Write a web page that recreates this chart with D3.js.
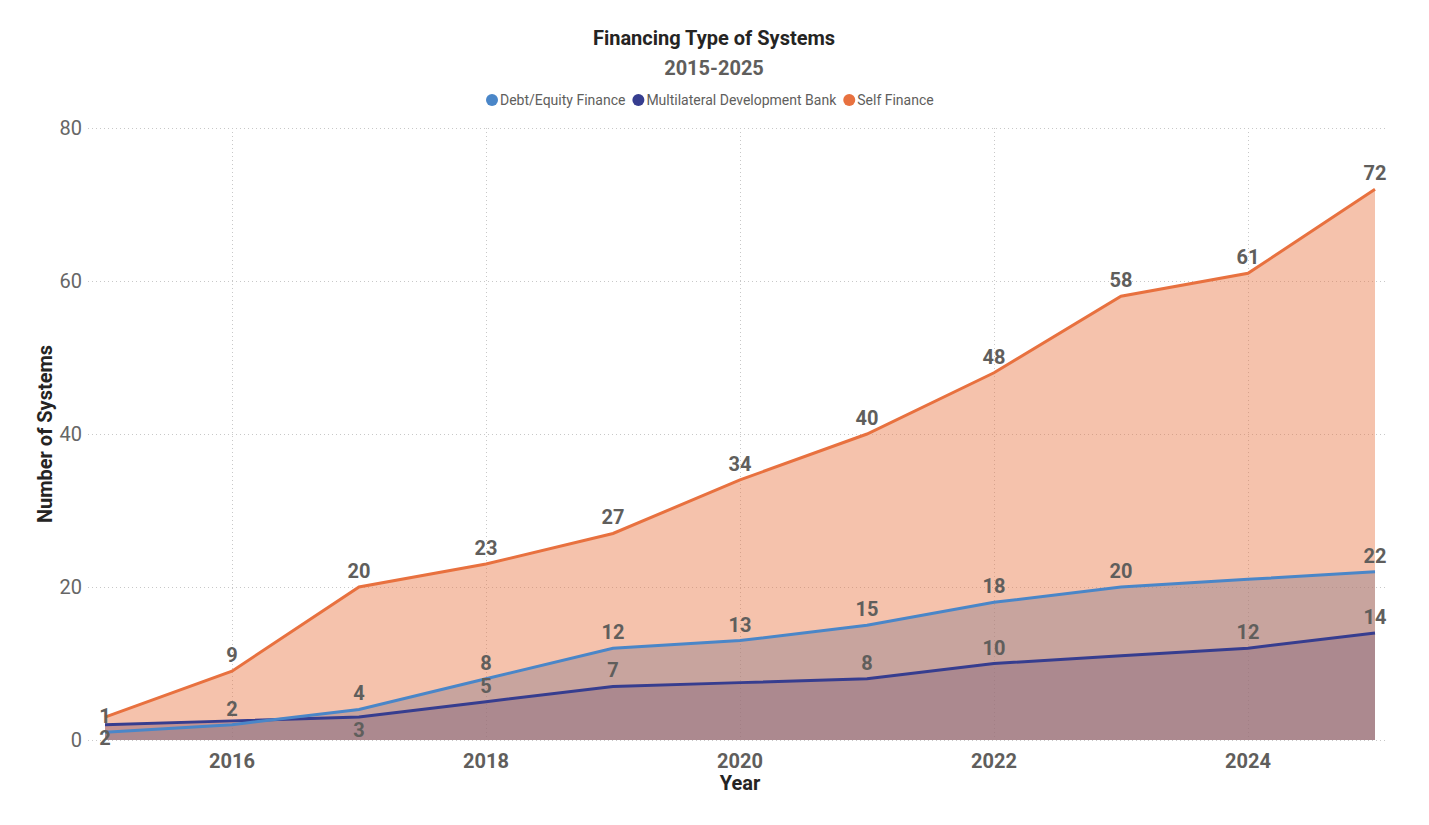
<!DOCTYPE html>
<html>
<head>
<meta charset="utf-8">
<script src="https://cdn.jsdelivr.net/npm/d3@7"></script>
<style>
  body { margin: 0; background: #fff; }
  text { font-family: Roboto, "DejaVu Sans", sans-serif; }
</style>
</head>
<body>
<div id="chart"></div>
<script>
// chart values
var years = [2015, 2016, 2017, 2018, 2019, 2020, 2021, 2022, 2023, 2024, 2025];
var seriesNames = ["Debt/Equity Finance", "Multilateral Development Bank", "Self Finance"];
var debtEquity = [1, 2, 4, 8, 12, 13, 15, 18, 20, 21, 22];
var multilateral = [2, 2.5, 3, 5, 7, 7.5, 8, 10, 11, 12, 14];
var selfFinance = [3, 9, 20, 23, 27, 34, 40, 48, 58, 61, 72];
var yTicks = [0, 20, 40, 60, 80];
var xTicks = [2016, 2018, 2020, 2022, 2024];

// which data labels the reference shows (others are hidden by overlap)
var debtLabels = [true, true, true, true, true, true, true, true, true, false, true];
var mdbLabels = [true, false, true, true, true, false, true, true, false, true, true];
var selfLabels = [false, true, true, true, true, true, true, true, true, true, true];
var mdbBelow = [true, false, true, false, false, false, false, false, false, false, false];

var colors = ["#4a86c8", "#363d8f", "#e8713f"];

var W = 1429, H = 825;
var margin = { left: 105, right: 54, top: 128, bottom: 85 };

var svg = d3.select("#chart").append("svg")
  .attr("width", W)
  .attr("height", H);

var x = d3.scaleLinear()
  .domain([2015, 2025])
  .range([margin.left, W - margin.right]);

var y = d3.scaleLinear()
  .domain([0, 80])
  .range([H - margin.bottom, margin.top]);

// <------ gridlines ------>
svg.append("g")
  .selectAll("line")
  .data(yTicks)
  .enter()
  .append("line")
  .attr("x1", 88)
  .attr("x2", 1386)
  .attr("y1", function(d) { return y(d) + 0.5; })
  .attr("y2", function(d) { return y(d) + 0.5; })
  .attr("stroke", "#c8c8c8")
  .attr("stroke-width", 1)
  .attr("stroke-dasharray", "1,3");

svg.append("g")
  .selectAll("line")
  .data(xTicks)
  .enter()
  .append("line")
  .attr("x1", function(d) { return x(d) + 0.5; })
  .attr("x2", function(d) { return x(d) + 0.5; })
  .attr("y1", y(80))
  .attr("y2", y(0))
  .attr("stroke", "#c8c8c8")
  .attr("stroke-width", 1)
  .attr("stroke-dasharray", "1,3");

// <------ areas (overlapping, not stacked) ------>
var series = [
  { name: seriesNames[1], values: multilateral, color: colors[1], labels: mdbLabels, below: mdbBelow },
  { name: seriesNames[0], values: debtEquity, color: colors[0], labels: debtLabels, below: null },
  { name: seriesNames[2], values: selfFinance, color: colors[2], labels: selfLabels, below: null }
];

var area = d3.area()
  .x(function(d, i) { return x(years[i]); })
  .y0(y(0))
  .y1(function(d) { return y(d); });

var line = d3.line()
  .x(function(d, i) { return x(years[i]); })
  .y(function(d) { return y(d); });

series.forEach(function(s) {
  svg.append("path")
    .datum(s.values)
    .attr("d", area)
    .attr("fill", s.color)
    .attr("fill-opacity", 0.43);
});

series.forEach(function(s) {
  svg.append("path")
    .datum(s.values)
    .attr("d", line)
    .attr("fill", "none")
    .attr("stroke", s.color)
    .attr("stroke-width", 3);
});

// <------ data labels ------>
series.forEach(function(s) {
  var pts = s.values.map(function(v, i) { return { v: v, i: i }; })
    .filter(function(p) { return s.labels[p.i]; });
  svg.append("g")
    .selectAll("text")
    .data(pts)
    .enter()
    .append("text")
    .attr("x", function(p) { return x(years[p.i]); })
    .attr("y", function(p) {
      return s.below && s.below[p.i] ? y(p.v) + 20 : y(p.v) - 9;
    })
    .attr("text-anchor", "middle")
    .attr("font-size", 20)
    .attr("font-weight", "bold")
    .attr("fill", "#605e5c")
    .text(function(p) { return Math.round(p.v); });
});

// <------ axes ------>
svg.append("g")
  .selectAll("text")
  .data(yTicks)
  .enter()
  .append("text")
  .attr("x", 82)
  .attr("y", function(d) { return y(d) + 7; })
  .attr("text-anchor", "end")
  .attr("font-size", 20)
  .attr("fill", "#666")
  .text(function(d) { return d; });

svg.append("g")
  .selectAll("text")
  .data(xTicks)
  .enter()
  .append("text")
  .attr("x", function(d) { return x(d); })
  .attr("y", 768)
  .attr("text-anchor", "middle")
  .attr("font-size", 20)
  .attr("font-weight", "bold")
  .attr("fill", "#605e5c")
  .text(function(d) { return d; });

svg.append("text")
  .attr("x", x(2020))
  .attr("y", 790)
  .attr("text-anchor", "middle")
  .attr("font-size", 20)
  .attr("font-weight", "bold")
  .attr("fill", "#252423")
  .text("Year");

svg.append("text")
  .attr("transform", "translate(52," + 434 + ") rotate(-90)")
  .attr("text-anchor", "middle")
  .attr("font-size", 20)
  .attr("font-weight", "bold")
  .attr("fill", "#252423")
  .text("Number of Systems");

// <------ title ------>
svg.append("text")
  .attr("x", 714)
  .attr("y", 45)
  .attr("text-anchor", "middle")
  .attr("font-size", 20)
  .attr("font-weight", "bold")
  .attr("fill", "#252423")
  .text("Financing Type of Systems");

svg.append("text")
  .attr("x", 714)
  .attr("y", 75)
  .attr("text-anchor", "middle")
  .attr("font-size", 20)
  .attr("font-weight", "bold")
  .attr("fill", "#605e5c")
  .text("2015-2025");

// <------ legend ------>
var legend = svg.append("g");
var lx = 486;
seriesNames.forEach(function(name, i) {
  legend.append("circle")
    .attr("cx", lx + 6)
    .attr("cy", 100)
    .attr("r", 6)
    .attr("fill", colors[i]);
  var t = legend.append("text")
    .attr("x", lx + 14)
    .attr("y", 105)
    .attr("font-size", 14)
    .attr("fill", "#605e5c")
    .text(name);
  lx += 14 + t.node().getComputedTextLength() + 7;
});
</script>
</body>
</html>
